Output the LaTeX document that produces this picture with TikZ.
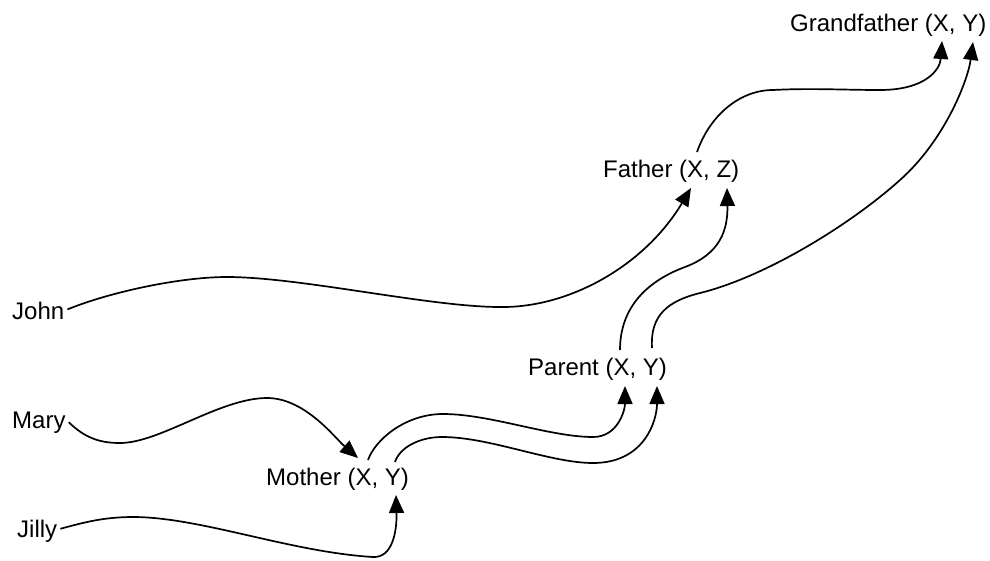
\documentclass[tikz,border=0pt]{standalone}
\usepackage{fontspec}
\setmainfont{Liberation Sans}
\usetikzlibrary{arrows.meta}

\begin{document}
\begin{tikzpicture}[
    x=1pt, y=-1pt,
    term/.style={anchor=base west, inner sep=0pt, font=\fontsize{24}{28}\selectfont},
    link/.style={line width=1.7pt, -{Triangle[length=18pt, width=15pt]}},
]
    \useasboundingbox (0,0) rectangle (990,560);

    % Facts
    \node[term] (john) at (12,319) {John};
    \node[term] (mary) at (12,428) {Mary};
    \node[term] (jilly) at (17,537) {Jilly};

    % Rules
    \node[term] (mother) at (266,485) {Mother (X, Y)};
    \node[term] (parent) at (528,375) {Parent (X, Y)};
    \node[term] (father) at (603,177) {Father (X, Z)};
    \node[term] (grandfather) at (790,31) {Grandfather (X, Y)};

    % argument slots
    \coordinate (mother-x-in) at (358,458);
    \coordinate (mother-x-out) at (368,460);
    \coordinate (mother-y-out) at (395,462);
    \coordinate (mother-y-in) at (396,495);
    \coordinate (parent-x-in) at (625,386);
    \coordinate (parent-y-in) at (657,386);
    \coordinate (parent-x-out) at (620,350);
    \coordinate (parent-y-out) at (652,348);
    \coordinate (father-x-in) at (691,188);
    \coordinate (father-z-in) at (727,188);
    \coordinate (father-x-out) at (697,152);
    \coordinate (grand-x-in) at (942,41);
    \coordinate (grand-y-in) at (973,42);

    % Facts into rules
    \draw[link] ([xshift=3pt,yshift=1pt]john.east) .. controls (110,292) and (180,277) .. (227,277)
        .. controls (300,277) and (430,307) .. (500,307)
        .. controls (570,308) and (645,265) .. (father-x-in);
    \draw[link] ([xshift=3pt]mary.east) .. controls (85,438) and (100,443) .. (120,443)
        .. controls (160,443) and (220,398) .. (267,398)
        .. controls (305,398) and (335,438) .. (mother-x-in);
    \draw[link] ([xshift=3pt,yshift=2pt]jilly.east) .. controls (85,522) and (105,517) .. (133,517)
        .. controls (200,517) and (290,552) .. (373,557)
        .. controls (393,558) and (397,530) .. (mother-y-in);

    % Mother to Parent
    \draw[link] (mother-x-out) .. controls (375,440) and (405,414) .. (443,414)
        .. controls (490,414) and (550,437) .. (593,437)
        .. controls (618,437) and (625,410) .. (parent-x-in);
    \draw[link] (mother-y-out) .. controls (400,447) and (420,437) .. (442,437)
        .. controls (490,437) and (550,463) .. (593,463)
        .. controls (645,463) and (657,420) .. (parent-y-in);

    % Parent to Father and Grandfather
    \draw[link] (parent-x-out) .. controls (620,305) and (650,280) .. (685,267)
        .. controls (720,254) and (728,230) .. (father-z-in);
    \draw[link] (parent-y-out) .. controls (650,315) and (668,301) .. (700,293)
        .. controls (765,277) and (850,225) .. (900,180)
        .. controls (945,140) and (968,80) .. (grand-y-in);

    % Father to Grandfather
    \draw[link] (father-x-out) .. controls (710,115) and (740,90) .. (773,90)
        .. controls (810,88) and (845,90) .. (880,90)
        .. controls (925,90) and (940,70) .. (grand-x-in);
\end{tikzpicture}
\end{document}
